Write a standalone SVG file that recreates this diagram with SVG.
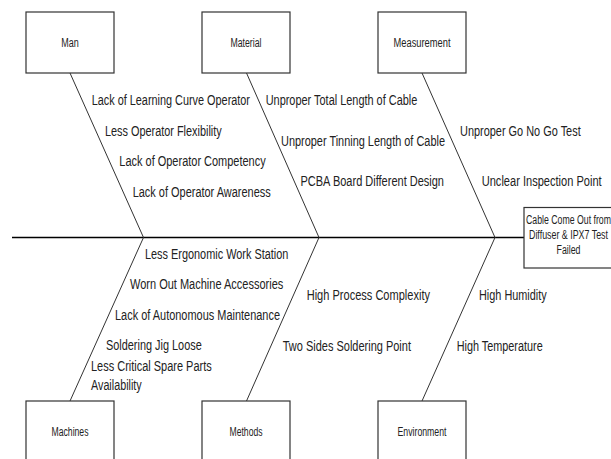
<svg xmlns="http://www.w3.org/2000/svg" width="611" height="459" viewBox="0 0 611 459">
<style>
.box{fill:#fff;stroke:#333;stroke-width:1.2}
.bone{fill:none;stroke:#333;stroke-width:1}
.spine{fill:none;stroke:#000;stroke-width:1.6}
.lbl{font-family:"Liberation Sans",Arial,sans-serif;font-size:14px;fill:#222}
.nt{font-family:"Liberation Sans",Arial,sans-serif;font-size:12px;fill:#222;text-anchor:middle}
</style>
<rect width="611" height="459" fill="#fff"/>
<g id="connectors">
<line class="spine" x1="12" y1="237.5" x2="524" y2="237.5"/>
<polyline class="bone" points="70,73 143.5,237.5 70,401"/>
<polyline class="bone" points="246.5,73 319,237.5 246.5,401"/>
<polyline class="bone" points="422,73 495,237.5 422,401"/>
</g>
<g id="man"><rect class="box" x="26" y="12" width="88" height="61"/><text class="nt" x="70" y="47" textLength="17.5" lengthAdjust="spacingAndGlyphs">Man</text></g>
<g id="material"><rect class="box" x="202" y="12" width="88" height="61"/><text class="nt" x="246" y="47" textLength="31" lengthAdjust="spacingAndGlyphs">Material</text></g>
<g id="measurement"><rect class="box" x="378" y="12" width="88" height="61"/><text class="nt" x="422" y="47" textLength="57" lengthAdjust="spacingAndGlyphs">Measurement</text></g>
<g id="machines"><rect class="box" x="26" y="401" width="88" height="61"/><text class="nt" x="70" y="436" textLength="37" lengthAdjust="spacingAndGlyphs">Machines</text></g>
<g id="methods"><rect class="box" x="202" y="401" width="88" height="61"/><text class="nt" x="246" y="436" textLength="33" lengthAdjust="spacingAndGlyphs">Methods</text></g>
<g id="environment"><rect class="box" x="378" y="401" width="88" height="61"/><text class="nt" x="422" y="436" textLength="49" lengthAdjust="spacingAndGlyphs">Environment</text></g>
<g id="effect"><rect class="box" x="524" y="207.5" width="90" height="60.5"/>
<text class="nt" x="568.5" y="224" textLength="85" lengthAdjust="spacingAndGlyphs">Cable Come Out from</text>
<text class="nt" x="568.5" y="239" textLength="79" lengthAdjust="spacingAndGlyphs">Diffuser &amp; IPX7 Test</text>
<text class="nt" x="568.5" y="254" textLength="24" lengthAdjust="spacingAndGlyphs">Failed</text></g>
<g id="causes" class="lbl">
<text x="91.7" y="105.3" textLength="158.3" lengthAdjust="spacingAndGlyphs">Lack of Learning Curve Operator</text>
<text x="105" y="135.8" textLength="116.7" lengthAdjust="spacingAndGlyphs">Less Operator Flexibility</text>
<text x="119.3" y="166.3" textLength="146.4" lengthAdjust="spacingAndGlyphs">Lack of Operator Competency</text>
<text x="132.7" y="196.8" textLength="138" lengthAdjust="spacingAndGlyphs">Lack of Operator Awareness</text>
<text x="265.7" y="105.3" textLength="151.6" lengthAdjust="spacingAndGlyphs">Unproper Total Length of Cable</text>
<text x="281" y="146" textLength="164" lengthAdjust="spacingAndGlyphs">Unproper Tinning Length of Cable</text>
<text x="300.5" y="186.3" textLength="143.5" lengthAdjust="spacingAndGlyphs">PCBA Board Different Design</text>
<text x="460" y="135.5" textLength="120.7" lengthAdjust="spacingAndGlyphs">Unproper Go No Go Test</text>
<text x="481.7" y="186.3" textLength="120" lengthAdjust="spacingAndGlyphs">Unclear Inspection Point</text>
<text x="145" y="258.5" textLength="143.3" lengthAdjust="spacingAndGlyphs">Less Ergonomic Work Station</text>
<text x="130" y="288.8" textLength="153.3" lengthAdjust="spacingAndGlyphs">Worn Out Machine Accessories</text>
<text x="115" y="319.5" textLength="165" lengthAdjust="spacingAndGlyphs">Lack of Autonomous Maintenance</text>
<text x="106" y="350" textLength="95.7" lengthAdjust="spacingAndGlyphs">Soldering Jig Loose</text>
<text x="91" y="371" textLength="120.7" lengthAdjust="spacingAndGlyphs">Less Critical Spare Parts</text>
<text x="91" y="389.5" textLength="50.7" lengthAdjust="spacingAndGlyphs">Availability</text>
<text x="306.7" y="299.5" textLength="123.3" lengthAdjust="spacingAndGlyphs">High Process Complexity</text>
<text x="282.7" y="350.5" textLength="128.3" lengthAdjust="spacingAndGlyphs">Two Sides Soldering Point</text>
<text x="479" y="299.5" textLength="67.7" lengthAdjust="spacingAndGlyphs">High Humidity</text>
<text x="456.7" y="350.5" textLength="86" lengthAdjust="spacingAndGlyphs">High Temperature</text>
</g>
</svg>
